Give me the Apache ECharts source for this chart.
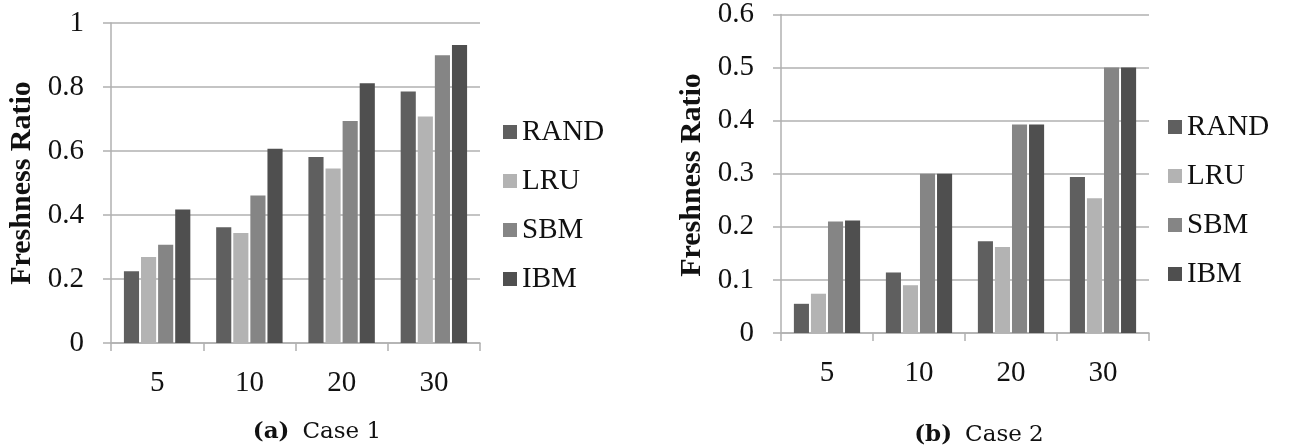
<!DOCTYPE html>
<html lang="en">
<head>
    <meta charset="UTF-8">
    <title>Freshness Ratio</title>
    <script src="https://cdn.jsdelivr.net/npm/echarts@6/dist/echarts.min.js"></script>
    <style>
        html, body { margin: 0; padding: 0; background: #fff; }
        #chart { width: 1290px; height: 448px; }
    </style>
</head>
<body>
<div id="chart"></div>
<script>
    // data
    const categories = ['5', '10', '20', '30'];
    const seriesNames = ['RAND', 'LRU', 'SBM', 'IBM'];

    // (a) Case 1
    const case1Rand = [0.224, 0.362, 0.581, 0.786];
    const case1Lru  = [0.269, 0.344, 0.545, 0.708];
    const case1Sbm  = [0.307, 0.461, 0.694, 0.899];
    const case1Ibm  = [0.417, 0.607, 0.812, 0.931];

    // (b) Case 2
    const case2Rand = [0.055, 0.114, 0.173, 0.294];
    const case2Lru  = [0.074, 0.090, 0.162, 0.254];
    const case2Sbm  = [0.210, 0.300, 0.393, 0.500];
    const case2Ibm  = [0.212, 0.300, 0.393, 0.500];

    const case1 = [case1Rand, case1Lru, case1Sbm, case1Ibm];
    const case2 = [case2Rand, case2Lru, case2Sbm, case2Ibm];
    const colors = ['#5f5f5f', '#b3b3b3', '#858585', '#4f4f4f'];

    const serif = "'Liberation Serif', 'Times New Roman', serif";
    const lineColor = '#b0b0b0';

    function makeX(gridIndex) {
        return {
            type: 'category',
            gridIndex: gridIndex,
            data: categories,
            axisLine: { lineStyle: { color: lineColor, width: 1.5 } },
            axisTick: { show: true, length: 8, lineStyle: { color: lineColor, width: 1.5 } },
            axisLabel: { color: '#111', fontFamily: serif, fontSize: 29, margin: 26 }
        };
    }

    function makeY(gridIndex, max, interval) {
        return {
            type: 'value',
            gridIndex: gridIndex,
            min: 0,
            max: max,
            interval: interval,
            axisLine: { show: true, lineStyle: { color: lineColor, width: 1.5 } },
            axisTick: { show: true, length: 8, lineStyle: { color: lineColor, width: 1.5 } },
            axisLabel: { color: '#111', fontFamily: serif, fontSize: 29, margin: 27 },
            splitLine: { lineStyle: { color: lineColor, width: 1.5 } }
        };
    }

    function makeLegend(left, top) {
        return {
            orient: 'vertical',
            left: left,
            top: top,
            itemWidth: 14,
            itemHeight: 14,
            itemGap: 19,
            icon: 'rect',
            data: seriesNames,
            textStyle: { color: '#111', fontFamily: serif, fontSize: 29, lineHeight: 30 }
        };
    }

    function yTitle(x, y) {
        return {
            type: 'text',
            x: x,
            y: y,
            rotation: Math.PI / 2,
            style: {
                text: 'Freshness Ratio',
                fontFamily: serif,
                fontSize: 30,
                fontWeight: 'bold',
                fill: '#111',
                align: 'center',
                verticalAlign: 'middle'
            }
        };
    }

    function caption(label, text, center, top) {
        return {
            text: '{b|' + label + '}{n|' + text + '}',
            left: center,
            top: top,
            textAlign: 'center',
            textStyle: {
                rich: {
                    b: { fontFamily: 'DejaVu Serif', fontWeight: 'bold', fontSize: 23, color: '#111', padding: [0, 13, 0, 0] },
                    n: { fontFamily: 'DejaVu Serif', fontWeight: 'normal', fontSize: 23, color: '#111' }
                }
            }
        };
    }

    const series = [];
    [case1, case2].forEach((values, g) => {
        values.forEach((vals, i) => {
            series.push({
                name: seriesNames[i],
                type: 'bar',
                xAxisIndex: g,
                yAxisIndex: g,
                data: vals,
                barCategoryGap: '28%',
                barGap: '13%',
                itemStyle: { color: colors[i] }
            });
        });
    });

    const chart = echarts.init(document.getElementById('chart'));
    chart.setOption({
        animation: false,
        color: colors,
        title: [caption('(a)', 'Case 1', 312, 416), caption('(b)', 'Case 2', 974, 419)],
        legend: [makeLegend(498, 112), makeLegend(1163, 107)],
        grid: [
            { left: 111, top: 23, right: 810, bottom: 105 },
            { left: 781, top: 14, right: 141, bottom: 115 }
        ],
        xAxis: [makeX(0), makeX(1)],
        yAxis: [makeY(0, 1, 0.2), makeY(1, 0.6, 0.1)],
        graphic: [yTitle(22, 183), yTitle(692, 175)],
        series: series
    });
    window.addEventListener('resize', () => chart.resize());
</script>
</body>
</html>
